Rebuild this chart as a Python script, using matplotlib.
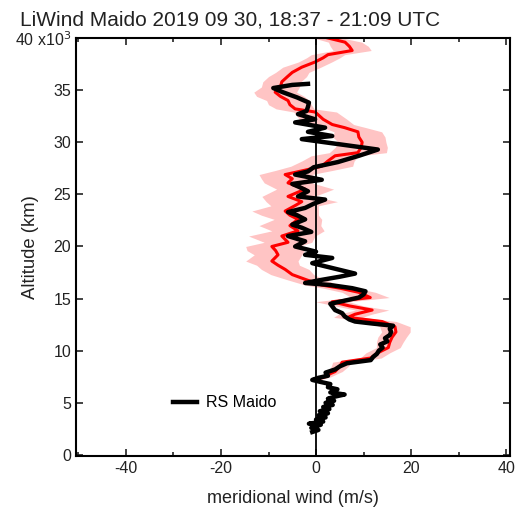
import matplotlib.pyplot as plt
from matplotlib.ticker import MultipleLocator

plt.rcParams['font.family'] = ['Liberation Sans', 'DejaVu Sans']
plt.rcParams['axes.unicode_minus'] = False

# radiosonde profile (RS Maido): altitude in km, meridional wind in m/s
rs_alt = [2.2, 2.4, 2.6, 2.9, 3.0, 3.2, 3.4, 3.6, 3.8, 4.0, 4.2, 4.4, 4.6, 4.8,
          5.0, 5.2, 5.4, 5.6, 5.8, 6.0, 6.3, 6.5, 6.8, 7.0, 7.2, 7.4, 7.6, 7.9,
          8.2, 8.5, 8.8, 9.1, 9.4, 9.7, 10.0, 10.3, 10.6, 10.9, 11.2, 11.5, 11.8,
          12.1, 12.4, 12.6, 12.8, 13.0, 13.3, 13.6, 13.9, 14.2, 14.5, 14.8, 15.1,
          15.4, 15.7, 16.0, 16.3, 16.5, 16.8, 17.1, 17.4, 17.8, 18.1, 18.4, 18.9,
          19.2, 19.5, 20.0, 20.5, 21.0, 21.4, 21.8, 22.1, 22.6, 23.0, 23.3, 23.7,
          24.1, 24.5, 24.8, 25.3, 25.7, 26.0, 26.4, 26.9, 27.2, 27.6, 28.1, 28.7,
          29.3, 29.8, 30.3, 30.6, 31.0, 31.4, 31.9, 32.2, 32.7, 33.0, 33.4, 33.8,
          34.3, 34.8, 35.2, 35.5, 35.6]
rs_wind = [-0.8, 0.5, -1.0, 1.0, -1.5, 1.5, 0.0, 2.0, 0.5, 2.5, 0.8, 2.8, 1.5, 3.5,
           2.0, 3.8, 2.5, 4.0, 6.0, 3.0, 4.5, 2.5, 3.0, 1.0, -0.8, 0.5, 2.5, 2.0,
           4.0, 5.0, 6.5, 11.5, 12.0, 12.8, 13.2, 14.0, 13.5, 15.0, 14.5, 15.5, 15.8,
           15.5, 16.2, 12.0, 8.2, 7.0, 6.0, 5.5, 4.0, 3.5, 3.0, 6.0, 9.0,
           10.0, 10.4, 7.6, 3.0, -2.3, 1.2, 5.0, 8.2, 4.6, 1.9, -0.8, 3.4,
           -2.3, 0.0, -4.4, -2.3, -5.9, -1.0, -3.0, -5.0, -2.3, -4.0, -5.9, -2.3,
           -0.5, 1.9, -3.8, -1.7, -3.5, -5.0, 1.2, -4.4, -1.7, -0.5, 4.6, 9.0,
           13.0, 5.0, -3.0, 3.4, -1.7, 1.9, -4.4, -0.2, -3.8, -2.0, -1.7, -1.5,
           -4.0, -7.0, -9.0, -5.0, -1.7]

# lidar profile (LiWind): altitude in km, wind and uncertainty in m/s
lw_alt = [7.3, 7.5, 7.8, 8.0, 8.5, 8.9, 9.3, 9.8, 10.3, 10.8, 11.3, 11.8, 12.3,
          12.8, 13.2, 13.5, 13.9, 14.3, 14.7, 15.1, 15.6, 16.0, 16.3, 16.8, 17.3,
          17.8, 18.2, 18.6, 19.2, 19.6, 20.0, 20.4, 21.0, 21.5, 22.0, 22.6, 23.0,
          23.4, 23.9, 24.3, 24.8, 25.5, 26.1, 26.5, 26.9, 27.3, 27.7, 28.2, 28.7,
          29.0, 29.5, 30.0, 30.5, 31.0, 31.4, 31.7, 32.2, 32.9, 33.2, 33.6, 34.0,
          34.4, 34.8, 35.3, 35.8, 36.3, 36.7, 37.2, 37.7, 38.1, 38.4, 38.8, 39.2,
          39.6, 40.0]
lw_wind = [0.5, 1.9, 3.0, 4.0, 5.0, 5.5, 11.5, 13.0, 15.2, 15.5, 16.0, 16.8, 16.6,
           13.9, 6.7, 8.2, 11.8, 7.0, 3.4, 11.4, 9.0, 5.0, 1.2, -2.0, -5.0,
           -6.5, -8.0, -9.3, -8.0, -8.5, -9.3, -5.9, -7.2, -3.8, -5.5, -3.8, -5.5,
           -6.5, -4.5, -3.0, -5.9, -2.3, -5.9, -5.0, -6.5, -2.5, 1.2, 2.5, 4.0,
           8.8, 9.5, 9.7, 9.0, 8.8, 6.0, 3.4, 1.5, -0.2, -4.4, -5.5, -5.9,
           -7.5, -8.6, -7.5, -7.2, -6.0, -5.0, -3.0, -0.2, 1.5, 2.5, 7.6, 7.0,
           6.1, 2.5]
lw_err = [1.0, 1.2, 1.5, 1.5, 1.8, 2.0, 2.2, 2.5, 2.5, 2.8, 3.0, 3.0, 3.2,
          3.0, 3.0, 3.5, 3.5, 3.0, 3.5, 4.0, 3.5, 3.5, 3.5, 4.0, 4.5,
          5.0, 4.5, 5.5, 5.0, 6.0, 5.5, 5.0, 7.0, 5.5, 6.5, 5.0, 6.0,
          7.0, 5.0, 7.5, 5.5, 6.0, 5.0, 6.5, 5.5, 6.0, 6.5, 5.5, 5.0,
          6.0, 5.5, 5.0, 5.5, 5.0, 4.5, 4.5, 5.0, 4.5, 4.0, 4.5, 4.5,
          5.0, 4.5, 4.0, 4.0, 4.0, 3.5, 4.0, 3.5, 3.5, 3.5, 4.0, 4.0,
          3.5, 3.0]

fig = plt.figure(figsize=(5.17, 5.08), dpi=100)
ax = fig.add_axes([76 / 517, 1 - 456 / 508, 434 / 517, 418 / 508])

lo = [w - e for w, e in zip(lw_wind, lw_err)]
hi = [w + e for w, e in zip(lw_wind, lw_err)]
ax.fill_betweenx(lw_alt, lo, hi, color='#ffc4c4', lw=0, zorder=1)
ax.plot(lw_wind, lw_alt, color='#ff0000', lw=2.2, zorder=2)
ax.plot(rs_wind, rs_alt, color='black', lw=3.2, zorder=3, label='RS Maido')
ax.axvline(0, color='black', lw=1.3, zorder=4)

ax.set_xlim(-50.5, 40.8)
ax.set_ylim(-0.1, 40)
ax.xaxis.set_major_locator(MultipleLocator(20))
ax.xaxis.set_minor_locator(MultipleLocator(10))
ax.set_yticks([0, 5, 10, 15, 20, 25, 30, 35, 40])
ax.set_yticklabels(['0', '5', '10', '15', '20', '25', '30', '35', '40 x10$^{3}$'])
ax.tick_params(which='both', direction='in', top=True, right=True, labelsize=11.5,
               width=1.2, colors='#222222')
ax.tick_params(which='major', length=5)
ax.tick_params(which='minor', length=3)
for s in ax.spines.values():
    s.set_linewidth(1.5)

ax.set_xlabel('meridional wind (m/s)', fontsize=13, labelpad=10, color='#222222')
ax.set_ylabel('Altitude (km)', fontsize=13.3, color='#222222')
ax.yaxis.set_label_coords(-0.086, 0.5)

ax.legend(loc='lower left', bbox_to_anchor=(0.19, 0.075), frameon=False,
          fontsize=11.5, handlelength=1.5, handletextpad=0.6)

fig.text(20 / 517, 1 - 26 / 508, 'LiWind Maido 2019 09 30, 18:37 - 21:09 UTC',
         fontsize=15, va='baseline', color='#222222')

fig.savefig('out.png', dpi=100)
